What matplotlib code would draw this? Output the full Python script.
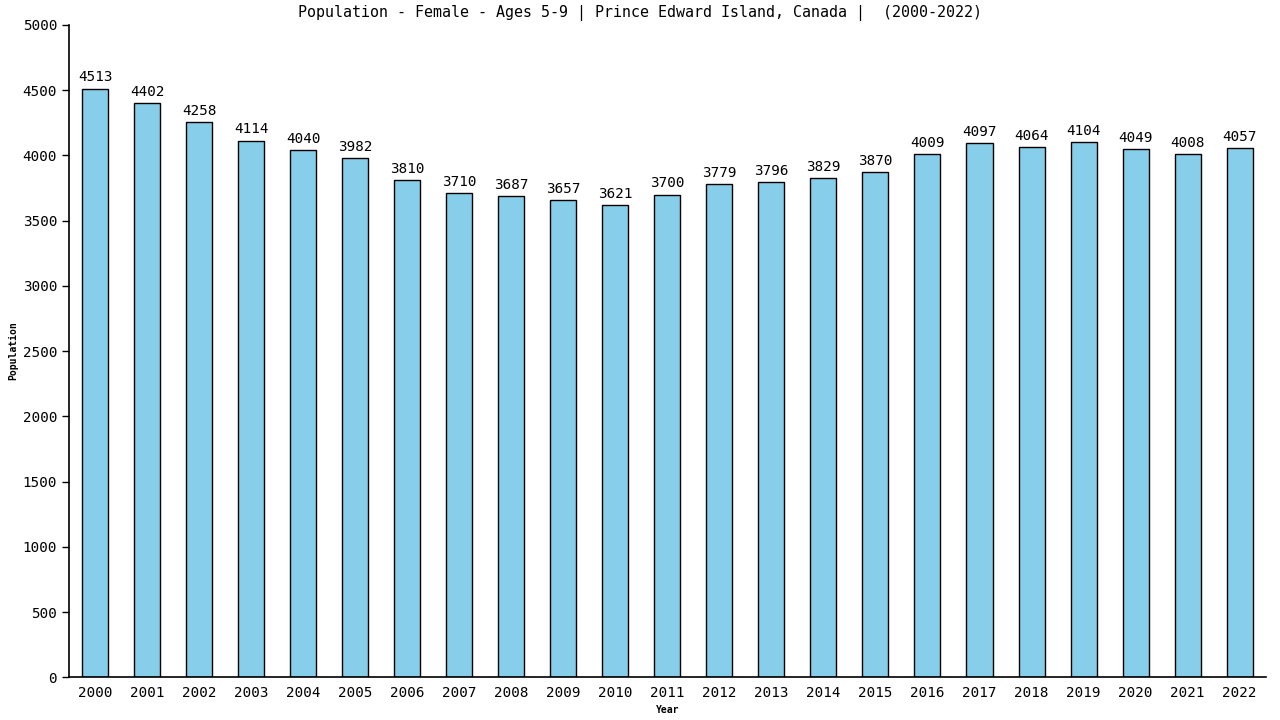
import numpy as np
import matplotlib
matplotlib.use("Agg")
import matplotlib.pyplot as plt

years = [str(y) for y in range(2000, 2023)]
population = [4513, 4402, 4258, 4114, 4040, 3982, 3810, 3710, 3687, 3657, 3621, 3700,
              3779, 3796, 3829, 3870, 4009, 4097, 4064, 4104, 4049, 4008, 4057]
yticks = list(range(0, 5001, 500))

plt.rcParams['font.family'] = ['DejaVu Sans Mono']

fig = plt.figure(figsize=(12.8, 7.2), dpi=100)
ax = fig.add_axes([0.0539, 0.0593, 0.9349, 0.906])

x = np.arange(len(years))
ax.bar(x, population, width=0.5, color='#87CEEB', edgecolor='black', linewidth=1)

for xi, v in zip(x, population):
    ax.annotate(str(v), (xi, v), xytext=(0, 3), textcoords='offset points',
                ha='center', va='bottom', fontsize=10.3)

ax.set_xlim(-0.5, len(years) - 0.5)
ax.set_ylim(0, 5000)
ax.set_xticks(x)
ax.set_xticklabels(years, fontsize=10.3)
ax.set_yticks(yticks)
ax.set_yticklabels([str(t) for t in yticks], fontsize=10.3)
ax.tick_params(axis='x', length=0, pad=6)
ax.tick_params(axis='y', length=5, width=1)
for side in ['top', 'right']:
    ax.spines[side].set_visible(False)
for side in ['left', 'bottom']:
    ax.spines[side].set_linewidth(1.2)

fig.text(0.5, 1 - 13 / 720,
         'Population - Female - Ages 5-9 | Prince Edward Island, Canada |  (2000-2022)',
         ha='center', va='center', fontsize=10.8)
ax.set_xlabel('Year', fontsize=7, fontweight='bold', labelpad=4)
fig.text(13 / 1280, 1 - 351 / 720, 'Population', rotation=90,
         ha='center', va='center', fontsize=7, fontweight='bold')

fig.savefig('out.png', dpi=100)
